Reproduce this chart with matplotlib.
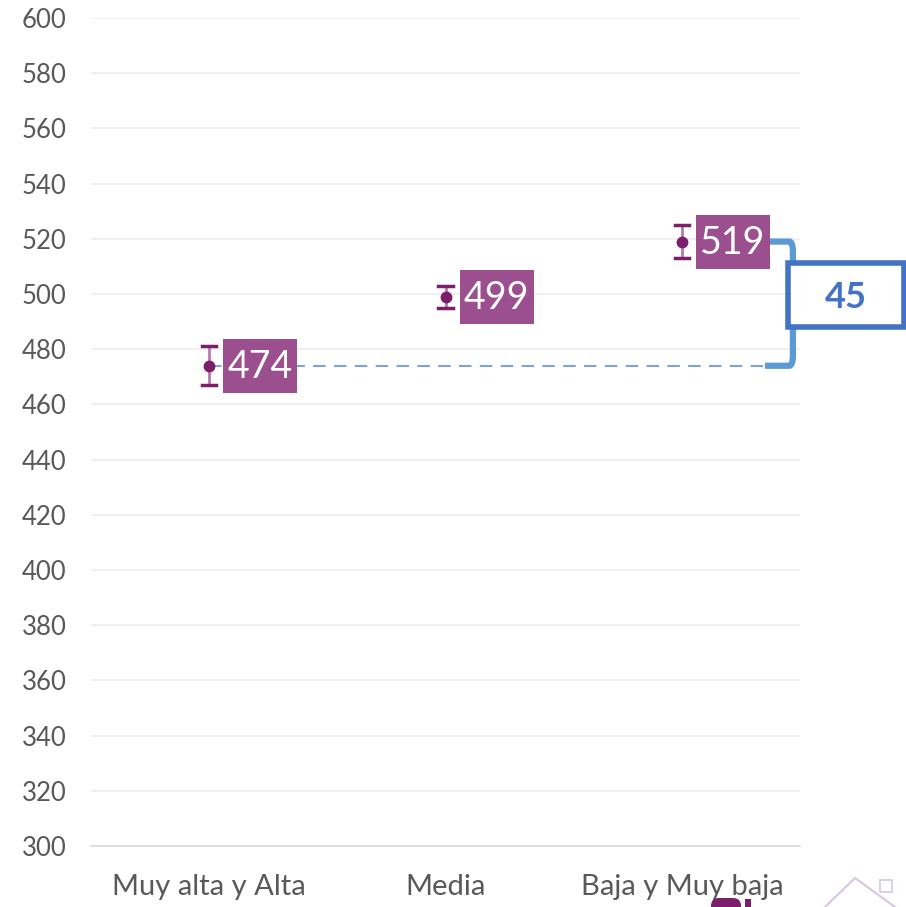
import matplotlib.pyplot as plt
from matplotlib.patches import Rectangle, PathPatch, FancyBboxPatch
from matplotlib.path import Path
from matplotlib.transforms import Affine2D, ScaledTranslation
from matplotlib.lines import Line2D

plt.rcParams['font.family'] = ['Lato', 'DejaVu Sans']

# data
categories = ["Muy alta y Alta", "Media", "Baja y Muy baja"]
scores = [474, 499, 519]
err_low = [7, 4, 6]
err_high = [7, 4, 6]
yticks = list(range(300, 601, 20))
gap_label = "45"

MARK = "#7B1F6B"
BOX = "#9B4F8E"
TICK = "#595959"
BLUE = "#5B9BD5"
DARKBLUE = "#4472C4"

W, H = 906, 907
fig = plt.figure(figsize=(W / 100, H / 100), dpi=100)
ax = fig.add_axes([91/W, 1-846/H, (800-91)/W, (846-18)/H])

x = list(range(len(categories)))
ax.set_xlim(-0.5, 2.5)
ax.set_ylim(300, 600)
ax.set_yticks(yticks)
ax.set_xticks(x)
ax.set_xticklabels(categories)
ax.yaxis.grid(True, color="#EDEDED", linewidth=1.2)
ax.set_axisbelow(True)
for s in ["top", "right", "left"]:
    ax.spines[s].set_visible(False)
ax.spines["bottom"].set_color("#D9D9D9")
ax.spines["bottom"].set_linewidth(1.2)
ax.tick_params(axis="both", length=0, colors=TICK)
ax.tick_params(axis="x", pad=20, labelsize=21)
ax.tick_params(axis="y", pad=50, labelsize=18.5)
for lab in ax.get_yticklabels():
    lab.set_horizontalalignment("left")

# dashed reference line from lowest group
ax.plot([x[0], 2.352], [scores[0], scores[0]], color="#7DA3DC", lw=1.5,
        dashes=(6, 4), zorder=2)

# error bars and points
ax.errorbar(x, scores, yerr=[err_low, err_high], fmt="o", color=MARK,
            ecolor="#B57AAE", elinewidth=2, capsize=0,
            markersize=7.5, zorder=4)
for xi, s, lo, hi in zip(x, scores, err_low, err_high):
    for yv in (s - lo, s + hi):
        ax.plot([xi - 0.03, xi + 0.03], [yv, yv], color=MARK, lw=2.5, zorder=5)

# value labels (box size in pixels, anchored at the point)
for xi, s in zip(x, scores):
    tr = Affine2D() + ScaledTranslation(xi, s, ax.transData)
    ax.add_patch(Rectangle((14, -27), 74, 54, transform=tr, fc=BOX, ec="none",
                           zorder=6, clip_on=False))
    ax.annotate(str(s), (xi, s), xytext=(51, -1), textcoords="offset pixels",
                ha="center", va="center", fontsize=27, color="white", zorder=7)

# bracket between lowest and highest
r = 4
verts = [(2.373, scores[2]), (2.455, scores[2]), (2.47, scores[2]),
         (2.47, scores[2] - r), (2.47, scores[0] + r), (2.47, scores[0]),
         (2.455, scores[0]), (2.352, scores[0])]
codes = [Path.MOVETO, Path.LINETO, Path.CURVE3, Path.CURVE3, Path.LINETO,
         Path.CURVE3, Path.CURVE3, Path.LINETO]
ax.add_patch(PathPatch(Path(verts, codes), fc="none", ec=BLUE, lw=4.5,
                       capstyle="butt", joinstyle="round", clip_on=False, zorder=3))

# difference box
fig.patches.append(Rectangle((788/W, 1-327/H), (904-788)/W, (327-263)/H,
                             transform=fig.transFigure, fc="white", ec=DARKBLUE,
                             lw=4, zorder=10))
fig.text(846/W, 1-297/H, gap_label, ha="center", va="center", fontsize=26,
         fontweight="bold", color=DARKBLUE, zorder=11)

# logo fragment at the bottom edge (shapes only)
px = Affine2D().scale(1, -1).translate(0, H)  # pixel coords from top-left
fig.patches.append(FancyBboxPatch((711, 898), 30, 20, boxstyle="round,pad=0,rounding_size=8",
                                  transform=px, fc=MARK, ec="none"))
fig.patches.append(Rectangle((745, 899), 6, 10, transform=px, fc=MARK, ec="none"))
house = Line2D([825, 855, 895], [907, 878, 907], transform=px,
               color="#D7C6E0", lw=1.5)
flag = Line2D([880, 880, 892, 892, 880], [880, 892, 892, 880, 880],
              transform=px, color="#D7C6E0", lw=1.2)
fig.lines.extend([house, flag])

fig.savefig("out.png", dpi=100)
